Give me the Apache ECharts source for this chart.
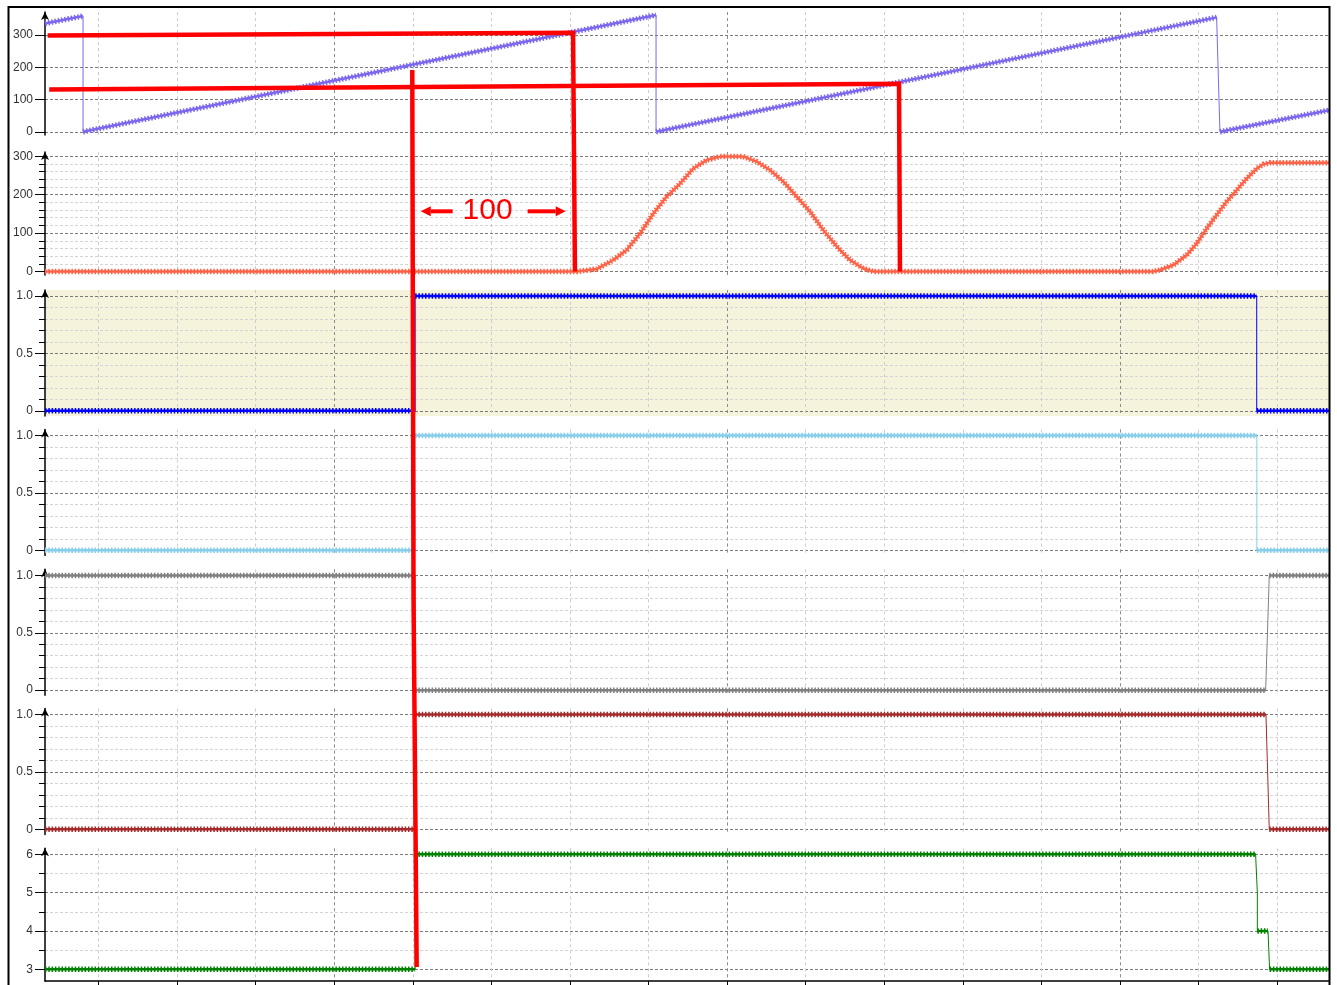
<!DOCTYPE html>
<html><head><meta charset="utf-8">
<script src="https://cdn.jsdelivr.net/npm/echarts@6/dist/echarts.min.js"></script>
<style>html,body{margin:0;padding:0;background:#fff}#chart{width:1337px;height:985px}</style>
</head><body><div id="chart"></div>
<script>
// ---- x axis (time-like units) ----
const xMin = 66, xMax = 883;
const xGridValues = [100,150,200,250,300,350,400,450,500,550,600,650,700,750,800,850];
const xMajorValues = [250,500,750];

// ---- panel tick values ----
const panelMajorTicks = [[0,100,200,300],[0,100,200,300],[0,0.5,1],[0,0.5,1],[0,0.5,1],[0,0.5,1],[3,4,5,6]];
const panelMinorTicks = [[],
  [20,40,60,80,120,140,160,180,220,240,260,280],
  [0.1,0.2,0.3,0.4,0.6,0.7,0.8,0.9],
  [0.1,0.2,0.3,0.4,0.6,0.7,0.8,0.9],
  [0.1,0.2,0.3,0.4,0.6,0.7,0.8,0.9],
  [0.1,0.2,0.3,0.4,0.6,0.7,0.8,0.9],
  [3.5,4.5,5.5]];

// ---- series values ----
const sawtoothX = [66, 90.2, 90.2, 454.8, 454.8, 811.5, 813.6, 883];
const sawtoothY = [336, 359, 0, 362, 0, 355, 0, 67];

const curveX = [66, 404.3, 417.0, 427.6, 436.1, 444.6, 453.1, 461.6, 470.1, 478.5, 487.0, 495.5, 510.3, 518.9, 527.3, 535.8, 544.3, 552.8, 561.2, 569.8, 578.2, 586.7, 593.0, 771, 775.5, 784.0, 792.5, 798.8, 805.2, 811.5, 817.9, 824.3, 830.6, 837.0, 841.2, 845.5, 883];
const curveY = [0, 0, 6.5, 30, 56, 99, 151, 195, 229, 268, 290, 299, 299, 286, 264, 234, 195, 156, 108, 65, 30, 8, 0, 0, 4, 17, 43, 73, 112, 147, 182, 212, 242, 268, 279, 283, 283];

const blueX = [66, 301.5, 301.5, 837.0, 837.0, 883];
const blueY = [0, 0, 1, 1, 0, 0];
const skyX = [66, 301.5, 301.5, 837.1, 837.1, 883];
const skyY = [0, 0, 1, 1, 0, 0];
const grayX = [66, 301.5, 301.5, 842.7, 845.0, 883];
const grayY = [1, 1, 0, 0, 1, 1];
const brownX = [66, 301.5, 301.5, 842.9, 845.0, 883];
const brownY = [0, 0, 1, 1, 0, 0];
const greenX = [66, 301.5, 301.5, 836.3, 837.4, 837.4, 844.2, 845.2, 883];
const greenY = [3, 3, 6, 6, 5, 4, 4, 3, 3];

// ---- annotation (panel index, x, y) ----
const cursorLine1 = [[0, 67.7, 299], [0, 402.0, 307.4], [1, 403.2, 0]];
const cursorLine2 = [[0, 68.7, 131.5], [0, 609.4, 149.2], [1, 610.0, 0]];
const cursorLine3 = [[0, 299.7, 191.7], [4, 300.5, 0.785], [6, 302.5, 3.06]];
const spanArrowLeft = [325.4, 305.1];   // tail, tip
const spanArrowRight = [373.1, 397.3];  // tail, tip
const spanArrowY = 156.7;
const spanLabel = '100';
const spanLabelPos = [347.6, 157];

// ---- layout ----
const panels = [
  {top: 12, height: 123, min: -10, max: 371.6},
  {top: 152, height: 123, min: -9, max: 311},
  {top: 290, height: 126, min: -0.045, max: 1.053, bg: '#f5f3dc'},
  {top: 429.5, height: 126, min: -0.045, max: 1.053},
  {top: 569.3, height: 126, min: -0.045, max: 1.053},
  {top: 708.5, height: 126, min: -0.045, max: 1.053},
  {top: 848.3, height: 132.7, min: 2.695, max: 6.157}
];
const signals = [
  {x: sawtoothX, y: sawtoothY, color: '#7b68ee'},
  {x: curveX, y: curveY, color: '#ff6347'},
  {x: blueX, y: blueY, color: '#0000ff'},
  {x: skyX, y: skyY, color: '#87ceeb'},
  {x: grayX, y: grayY, color: '#808080'},
  {x: brownX, y: brownY, color: '#a52a2a'},
  {x: greenX, y: greenY, color: '#008000'}
];

function labelFmt(i) {
  if (i >= 2 && i <= 5) return v => (v === 0 ? '0' : v.toFixed(1));
  return v => String(Math.round(v));
}
function zip(xs, ys) { return xs.map((x, k) => [x, ys[k]]); }
function markedSegments(xs, ys) {
  const out = []; let open = false;
  for (let k = 0; k < xs.length - 1; k++) {
    if (xs[k + 1] - xs[k] > 3) {
      if (!open) { out.push([xs[k], ys[k]]); open = true; }
      out.push([xs[k + 1], ys[k + 1]]);
    } else if (open) {
      out.push([xs[k], null]); open = false;
    }
  }
  return out;
}

const option = {
  animation: false,
  textStyle: {fontFamily: 'Liberation Sans'},
  grid: [], xAxis: [], yAxis: [], series: []
};

panels.forEach((p, i) => {
  const last = i === panels.length - 1;
  option.grid.push({left: 45, width: 1284, top: p.top, height: p.height,
    show: !!p.bg, backgroundColor: p.bg || 'transparent', borderWidth: 0});
  option.xAxis.push({type: 'value', gridIndex: i, min: xMin, max: xMax, position: 'bottom',
    axisLine: {show: last, onZero: false, lineStyle: {color: '#000', width: 1.5}},
    axisTick: {show: last, customValues: xGridValues, length: 5, lineStyle: {color: '#000'}},
    axisLabel: {show: false, customValues: xGridValues},
    splitLine: {show: true, lineStyle: {color: '#cdcdcd', type: [3, 3], width: 1}}});
  option.xAxis.push({type: 'value', gridIndex: i, min: xMin, max: xMax, position: 'bottom',
    axisLine: {show: false, onZero: false},
    axisTick: {show: false, customValues: xMajorValues},
    axisLabel: {show: false, customValues: xMajorValues},
    splitLine: {show: true, lineStyle: {color: '#8c8c8c', type: [3, 3], width: 1}}});
  const minor = panelMinorTicks[i], major = panelMajorTicks[i];
  option.yAxis.push({type: 'value', gridIndex: i, min: p.min, max: p.max, position: 'left',
    axisLine: {show: false, onZero: false},
    axisTick: {show: minor.length > 0, customValues: minor, length: 6, lineStyle: {color: '#000'}},
    axisLabel: {show: false, customValues: minor},
    splitLine: {show: minor.length > 0, lineStyle: {color: '#d4d4d4', type: [3, 2], width: 1}}});
  option.yAxis.push({type: 'value', gridIndex: i, min: p.min, max: p.max, position: 'left',
    axisLine: {show: true, onZero: false, lineStyle: {color: '#000', width: 1.5},
      symbol: ['none', 'arrow'], symbolSize: [6, 8]},
    axisTick: {show: true, customValues: major, length: 10, lineStyle: {color: '#000'}},
    axisLabel: {show: true, customValues: major, formatter: labelFmt(i), fontSize: 12,
      color: '#333', margin: 12, fontFamily: 'Liberation Sans'},
    splitLine: {show: true, lineStyle: {color: '#7a7a7a', type: [3, 2], width: 1}}});

  const s = signals[i];
  const base = {type: 'line', xAxisIndex: 2 * i + 1, yAxisIndex: 2 * i + 1,
    showSymbol: false, symbol: 'none', silent: true, connectNulls: false};
  option.series.push(Object.assign({}, base, {data: zip(s.x, s.y), lineStyle: {color: s.color, width: 1}, z: 3}));
  const seg = markedSegments(s.x, s.y);
  option.series.push(Object.assign({}, base, {data: seg, lineStyle: {color: s.color, width: 2.5}, z: 4}));
  option.series.push(Object.assign({}, base, {data: seg, lineStyle: {color: s.color, width: 5.5, type: [1.5, 1.8]}, z: 4}));
});

const chart = echarts.init(document.getElementById('chart'), null, {renderer: 'canvas'});
chart.setOption(option);

const toPx = (g, x, y) => chart.convertToPixel({gridIndex: g}, [x, y]);
const graphics = [];
[cursorLine1, cursorLine2, cursorLine3].forEach(pts => {
  graphics.push({type: 'polyline', silent: true, z: 100,
    shape: {points: pts.map(p => toPx(p[0], p[1], p[2]))},
    style: {stroke: '#ff0000', lineWidth: 4.5, fill: 'none', lineJoin: 'miter', lineCap: 'butt'}});
});
function addArrow(tailX, tipX) {
  const a = toPx(1, tailX, spanArrowY), b = toPx(1, tipX, spanArrowY);
  const dir = Math.sign(b[0] - a[0]);
  const head = 10, half = 5;
  const bx = b[0] - dir * head;
  graphics.push({type: 'line', silent: true, z: 100,
    shape: {x1: a[0], y1: a[1], x2: bx, y2: b[1]}, style: {stroke: '#ff0000', lineWidth: 4}});
  graphics.push({type: 'polygon', silent: true, z: 100,
    shape: {points: [[b[0], b[1]], [bx, b[1] - half], [bx, b[1] + half]]}, style: {fill: '#ff0000'}});
}
addArrow(spanArrowLeft[0], spanArrowLeft[1]);
addArrow(spanArrowRight[0], spanArrowRight[1]);
const lp = toPx(1, spanLabelPos[0], spanLabelPos[1]);
graphics.push({type: 'text', silent: true, z: 100, x: lp[0], y: lp[1],
  style: {text: spanLabel, fill: '#ff0000', font: '30px "Liberation Sans"', align: 'center', verticalAlign: 'middle'}});
graphics.push({type: 'rect', silent: true, z: 100,
  shape: {x: 8.5, y: 7, width: 1321, height: 1000},
  style: {fill: 'none', stroke: '#000', lineWidth: 2}});
chart.setOption({graphic: graphics});
</script>
</body></html>
